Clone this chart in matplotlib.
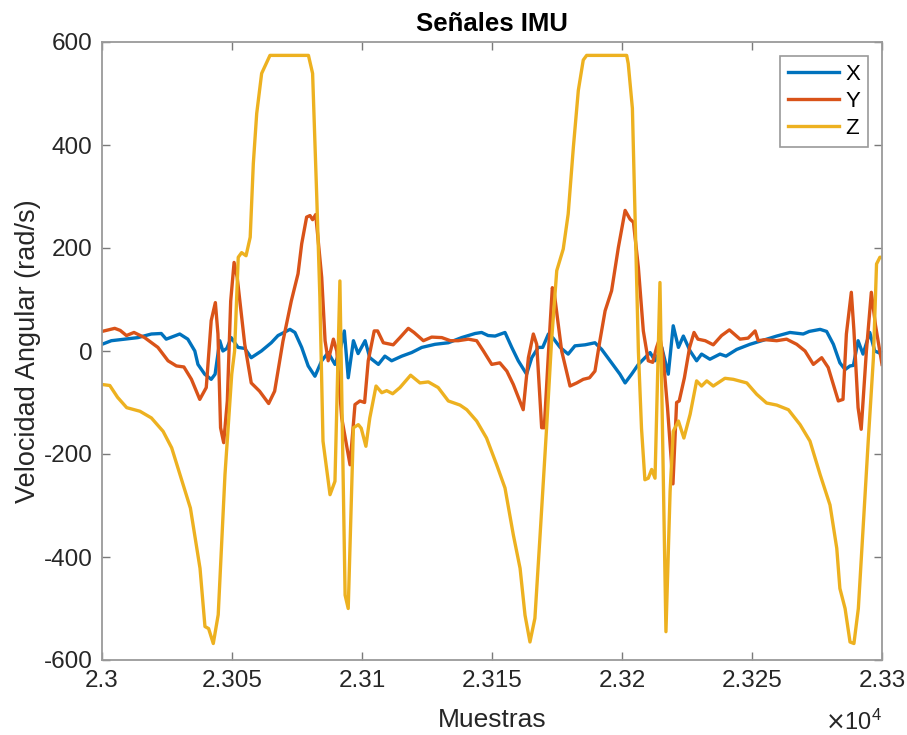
import matplotlib
matplotlib.use('Agg')
import matplotlib.pyplot as plt
from matplotlib.ticker import FuncFormatter

plt.rcParams['font.family'] = ['Liberation Sans', 'DejaVu Sans']
plt.rcParams['axes.unicode_minus'] = False

# Datos (muestra, valor en rad/s)
x_muestras = [23000, 23003.6, 23008.7, 23013.8, 23019, 23022.8, 23024.7, 23029.9, 23033, 23035.7,
              23036.9, 23039.5, 23042, 23043.5, 23045.3, 23046.5, 23048, 23049.7, 23052.3, 23054.9,
              23057.4, 23061.3, 23065.1, 23067.7, 23072.3, 23074.2, 23076.8, 23079.3, 23081.9, 23084.5,
              23087, 23089.6, 23091.5, 23093.2, 23094.7, 23096.7, 23098.5, 23101.2, 23103, 23106.3,
              23108.8, 23111.4, 23115.3, 23119.1, 23123, 23128.1, 23133.2, 23138.3, 23143.5, 23146,
              23148.5, 23151.2, 23155, 23157.6, 23160.1, 23163.3, 23165.3, 23167.8, 23169.5, 23171.7,
              23173.5, 23176.2, 23179.3, 23181.9, 23185.8, 23189.6, 23192.2, 23196, 23199.2, 23201.2,
              23203.7, 23206.3, 23210.8, 23212.7, 23215.3, 23217.8, 23219.7, 23221.7, 23223.6, 23226.2,
              23228.7, 23230.6, 23233.8, 23237.7, 23240, 23244.1, 23249.2, 23254.4, 23259.5, 23264.6,
              23269.7, 23272, 23276.2, 23278.7, 23281.3, 23283.8, 23285.8, 23287.7, 23289, 23290.8,
              23292.7, 23295.3, 23297.2, 23300]
x_valores = [13, 20, 23, 26, 33, 34, 23, 33, 23, 0,
             -26, -45, -55, -45, 20, 0, 5, 26, 7, 5,
             -13, 0, 16, 30, 42, 36, 7, -29, -49, -19,
             -3, -26, 0, 39, -52, 20, -5, 20, -13, -26,
             -10, -19, -10, -3, 7, 13, 16, 26, 34, 36,
             30, 29, 36, 7, -19, -45, -13, 7, 7, 33,
             25, 7, -6, 10, 12, 16, 3, -23, -45, -62,
             -45, -26, -3, -19, 7, -45, 49, 7, 29, 0,
             -19, -6, -16, -6, -10, 3, 13, 21, 29, 36,
             33, 38, 42, 38, 13, -23, -36, -29, -28, 20,
             -6, 36, 0, -6]

y_muestras = [23000, 23004.9, 23007, 23009.4, 23012.3, 23016.4, 23021.5, 23025.4, 23028.6, 23031.5,
              23034.4, 23037.6, 23040.1, 23042, 23043.6, 23044.6, 23045.6, 23046.8, 23048.2, 23049.5,
              23050.8, 23052, 23054.9, 23057.4, 23060.6, 23064.1, 23066.4, 23069.6, 23072.8, 23075.4,
              23076.8, 23078.7, 23080, 23081, 23082.2, 23084.5, 23085.8, 23087, 23089, 23090.3,
              23092.2, 23095.4, 23097.3, 23099.2, 23101, 23102.4, 23104.7, 23106, 23108.2, 23112,
              23114.6, 23117.8, 23120, 23123.6, 23126.8, 23130.7, 23134, 23137, 23140.9, 23144.1,
              23146.7, 23149.9, 23153, 23155.7, 23158.2, 23162, 23164, 23165.9, 23167.2, 23169.1,
              23170.1, 23171.9, 23173.2, 23174, 23176.8, 23180, 23182.6, 23185.1, 23187.5, 23189.6,
              23191.5, 23193.5, 23196, 23198.6, 23201.2, 23203.1, 23204.4, 23206.3, 23208.2, 23210.1,
              23211.8, 23213.3, 23214.6, 23215.8, 23217.5, 23219.6, 23221, 23222, 23224, 23226,
              23227.7, 23229.2, 23232, 23235.1, 23238.3, 23241.3, 23245.4, 23248.5, 23251.2, 23252.4,
              23255, 23259.5, 23263.3, 23267.2, 23270.4, 23273.6, 23276.8, 23279.3, 23281.3, 23283.2,
              23285, 23286.3, 23288.2, 23289.2, 23290.8, 23292, 23294, 23295.9, 23297.5, 23300]
y_valores = [38, 44, 40, 30, 36, 26, 7, -19, -29, -31,
             -55, -94, -71, 59, 94, 33, -149, -178, -97, 97,
             172, 143, 13, -62, -78, -102, -78, 19, 97, 150,
             208, 260, 263, 255, 265, 143, 20, -19, 23, 0,
             -130, -221, -104, -97, -100, -19, 39, 39, 16, 12,
             26, 44, 36, 20, 27, 26, 20, 20, 23, 20,
             0, -26, -23, -39, -65, -114, -13, 33, 13, -149,
             -149, 13, 123, 110, 0, -68, -62, -55, -52, -39,
             20, 78, 117, 201, 273, 256, 250, 162, 39, -19,
             -22, 7, 26, -10, -110, -258, -100, -97, -52, 7,
             36, 23, 20, 12, 30, 41, 23, 25, 39, 20,
             22, 20, 23, 13, 0, -26, -13, -32, -65, -97,
             -94, 33, 114, 40, -110, -152, 0, 114, 50, -26]

z_muestras = [23000, 23003, 23006, 23009.5, 23014.6, 23019, 23023.5, 23026.8, 23030, 23034,
              23037.7, 23039.6, 23041, 23042.8, 23044.7, 23047.3, 23049.9, 23051, 23052.4, 23053.7,
              23055.4, 23057, 23058.2, 23059.5, 23061.4, 23064.6, 23079.4, 23081, 23082.6, 23083.8,
              23085, 23087.7, 23089.6, 23091.5, 23093.5, 23094.7, 23096.7, 23098.6, 23099.7, 23101.5,
              23103, 23105.4, 23107.6, 23109.5, 23111.8, 23114.6, 23118.7, 23122.3, 23125.5, 23129.3,
              23133.2, 23137.7, 23140.3, 23144.1, 23147.9, 23151.8, 23155, 23158.2, 23160.8, 23162.7,
              23164.6, 23166.5, 23168.5, 23171, 23172.9, 23174.9, 23177.4, 23179.3, 23181.3, 23183.2,
              23185.1, 23186.4, 23201.8, 23202.4, 23204, 23205, 23206.3, 23207.5, 23208.8, 23210.1,
              23211.4, 23212.7, 23214.6, 23216.9, 23218.5, 23219.7, 23221.7, 23223.8, 23226.2, 23228.7,
              23230.6, 23232.6, 23235.1, 23239.6, 23242.8, 23248, 23251.8, 23255.6, 23259.5, 23264,
              23268.5, 23272.3, 23276.2, 23280, 23282.6, 23283.8, 23285.8, 23287.7, 23289.2, 23290.9,
              23292.8, 23294.7, 23296.7, 23297.9, 23299.2, 23300]
z_valores = [-65, -67, -90, -110, -117, -130, -156, -188, -240, -305,
             -422, -535, -539, -568, -512, -240, -45, 0, 182, 191,
             185, 221, 364, 461, 539, 574, 574, 539, 299, 104,
             -175, -279, -253, 136, -474, -500, -149, -143, -150, -185,
             -130, -68, -81, -77, -83, -71, -47, -62, -60, -71,
             -97, -105, -114, -136, -169, -221, -266, -357, -422, -513,
             -565, -519, -357, -149, 19, 156, 198, 266, 396, 506,
             565, 574, 574, 558, 471, 266, 0, -150, -250, -247,
             -230, -247, 133, -545, -273, -156, -136, -169, -123, -58,
             -68, -58, -68, -53, -55, -62, -84, -101, -105, -114,
             -143, -175, -240, -299, -383, -461, -500, -565, -568, -500,
             -338, -175, -13, 169, 182, 182]

series = ['X', 'Y', 'Z']
colores = ['#0072BD', '#D95319', '#EDB120']

fig = plt.figure(figsize=(9.07, 7.35), dpi=100)
ax = fig.add_axes([102 / 907, 75 / 735, 780 / 907, 618 / 735])

ax.plot(x_muestras, x_valores, color=colores[0], lw=2.4, label=series[0])
ax.plot(y_muestras, y_valores, color=colores[1], lw=2.4, label=series[1])
ax.plot(z_muestras, z_valores, color=colores[2], lw=2.4, label=series[2])

ax.set_xlim(23000, 23300)
ax.set_ylim(-600, 600)
ax.set_xticks(range(23000, 23301, 50))
ax.set_yticks(range(-600, 601, 200))
ax.xaxis.set_major_formatter(FuncFormatter(lambda v, p: f"{v / 1e4:g}"))

gris = '#262626'
for s in ax.spines.values():
    s.set_color('#9a9a9a')
    s.set_linewidth(1.3)
ax.tick_params(direction='in', length=6, width=1, color='#7a7a7a', labelsize=17.5,
               labelcolor=gris, top=True, right=True, pad=7)

ax.set_title('Señales IMU', fontsize=18.5, fontweight='bold', color='black', pad=8)
ax.set_xlabel('Muestras', fontsize=19, color=gris, va='center')
ax.set_ylabel('Velocidad Angular (rad/s)', fontsize=19.5, color=gris, va='center')
ax.xaxis.set_label_coords(0.5, -0.097)
ax.yaxis.set_label_coords(-0.095, 0.5)
ax.text(1.0, -0.1, r'$\times\mathregular{10^4}$', transform=ax.transAxes,
        ha='right', va='center', fontsize=17, color=gris)

leg = ax.legend(loc='upper right', bbox_to_anchor=(1 - 14 / 780, 1 - 14 / 618),
                borderaxespad=0, fontsize=16, fancybox=False, framealpha=1,
                edgecolor='#9a9a9a', handlelength=2.3, handletextpad=0.3,
                labelspacing=0.27, borderpad=0.35)
leg.get_frame().set_linewidth(1.2)

fig.savefig('out.png', dpi=100)
